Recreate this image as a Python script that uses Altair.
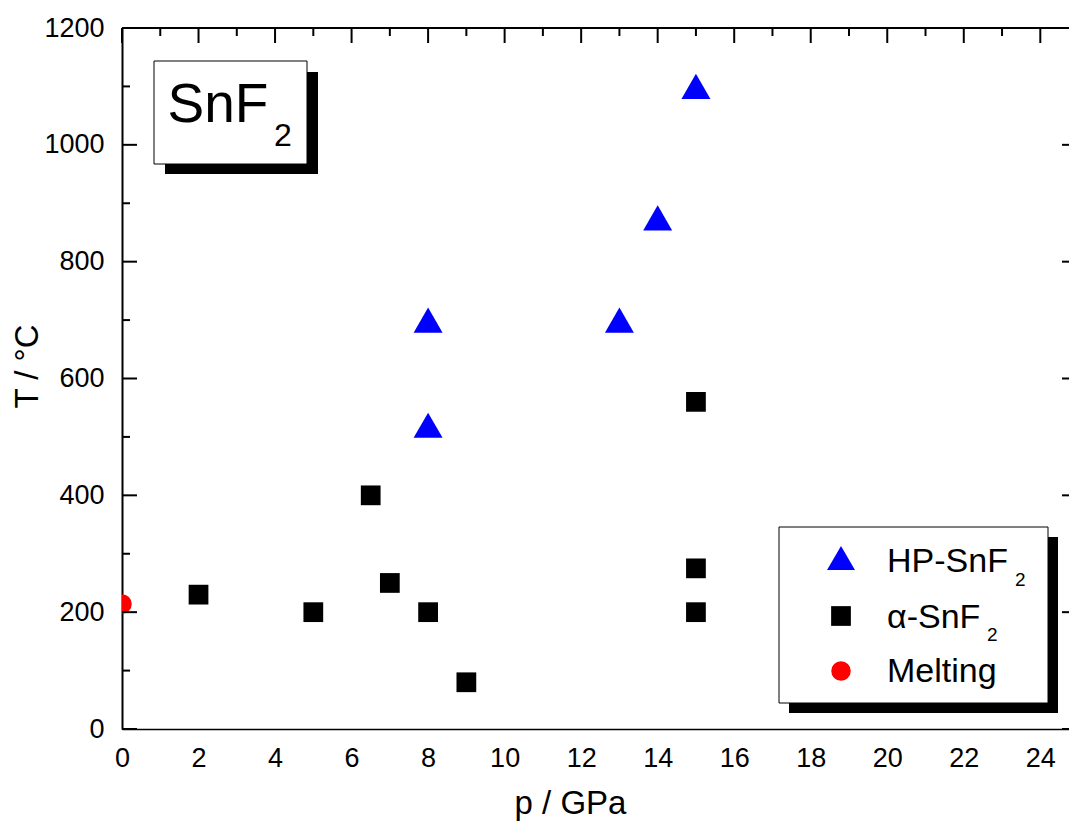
import altair as alt
import pandas as pd

# ---- data ----
hp_p = [8, 8, 13, 14, 15]
hp_T = [700, 520, 700, 875, 1100]
alpha_p = [2, 5, 6.5, 7, 8, 9, 15, 15, 15]
alpha_T = [230, 200, 400, 250, 200, 80, 560, 275, 200]
melt_p = [0]
melt_T = [214]

legend_main = ["HP-SnF", "α-SnF", "Melting"]
legend_sub = ["2", "2", ""]
x_ticks = list(range(0, 25, 2))
x_minor = list(range(1, 25, 2))
y_ticks = list(range(0, 1201, 200))
y_minor = list(range(100, 1200, 200))

FONT = "Liberation Sans"
W, H = 947, 701

xscale = alt.Scale(domain=[0, 24.75], nice=False, zero=False)
yscale = alt.Scale(domain=[0, 1200], nice=False, zero=False)

xaxis = alt.Axis(values=x_ticks, ticks=False, tickSize=0, grid=False, domainColor="black",
                 domainWidth=1.5, labelFontSize=27, labelFont=FONT, labelColor="black",
                 labelPadding=16, labelFlush=False, labelOverlap=False, format="d",
                 title="p / GPa", titleFont=FONT, titleFontSize=33, titleFontWeight="normal",
                 titleColor="black", titleX=448, titleY=84, titleAlign="center",
                 titleBaseline="alphabetic")
yaxis = alt.Axis(values=y_ticks, ticks=False, tickSize=0, grid=False, domainColor="black",
                 domainWidth=2, labelFontSize=27, labelFont=FONT, labelColor="black",
                 labelPadding=18, labelFlush=False, labelOverlap=False, format="d",
                 title="T / °C", titleFont=FONT, titleFontSize=33, titleFontWeight="normal",
                 titleColor="black", titleAngle=270, titleX=-95, titleY=338,
                 titleAlign="center", titleBaseline="middle")

X = alt.X("p:Q", scale=xscale, axis=xaxis)
Y = alt.Y("T:Q", scale=yscale, axis=yaxis)

hp_df = pd.DataFrame({"p": hp_p, "T": hp_T})
al_df = pd.DataFrame({"p": alpha_p, "T": alpha_T})
me_df = pd.DataFrame({"p": melt_p, "T": melt_T})
one = pd.DataFrame({"a": [0]})

alpha_layer = alt.Chart(al_df).mark_point(shape="square", filled=True, color="#000000",
                                          opacity=1, size=390, clip=True).encode(x=X, y=Y)
hp_layer = alt.Chart(hp_df).mark_point(shape="triangle-up", filled=True, color="#0000ff",
                                       opacity=1, size=840, clip=True).encode(x=X, y=Y)
me_layer = alt.Chart(me_df).mark_point(shape="circle", filled=True, color="#ff0000",
                                       opacity=1, size=380, clip=True).encode(x=X, y=Y)

# ---- frame and inward ticks ----
top_line = alt.Chart(one).mark_rule(color="black", strokeWidth=2).encode(
    x=alt.value(0), x2=alt.value(W), y=alt.value(0))
top_major = alt.Chart(pd.DataFrame({"p": x_ticks})).mark_rule(color="black", strokeWidth=2).encode(
    x=X, y=alt.value(0), y2=alt.value(15))
top_minor = alt.Chart(pd.DataFrame({"p": x_minor})).mark_rule(color="black", strokeWidth=2).encode(
    x=X, y=alt.value(0), y2=alt.value(8))
left_major = alt.Chart(pd.DataFrame({"T": y_ticks})).mark_rule(color="black", strokeWidth=2).encode(
    y=Y, x=alt.value(0), x2=alt.value(15))
left_minor = alt.Chart(pd.DataFrame({"T": y_minor})).mark_rule(color="black", strokeWidth=2).encode(
    y=Y, x=alt.value(0), x2=alt.value(8))
right_major = alt.Chart(pd.DataFrame({"T": y_ticks})).mark_rule(color="black", strokeWidth=2).encode(
    y=Y, x=alt.value(W - 7), x2=alt.value(W))


def rect(x1, x2, y1, y2, **kw):
    return alt.Chart(one).mark_rect(**kw).encode(
        x=alt.value(x1), x2=alt.value(x2), y=alt.value(y1), y2=alt.value(y2))


def txt(s, x, y, size):
    return alt.Chart(one).mark_text(text=s, font=FONT, fontSize=size, align="left",
                                    baseline="alphabetic", color="black").encode(
        x=alt.value(x), y=alt.value(y))


# ---- SnF2 label box ----
title_shadow = rect(43, 196, 44, 146, color="black")
title_box = rect(32, 185, 33, 136, fill="white", stroke="black", strokeWidth=1)
title_main = txt("SnF", 45.5, 94, 55)
title_sub = txt("2", 152, 118, 32)

# ---- legend ----
leg_shadow = rect(667, 936, 509, 685, color="black")
leg_box = rect(657, 926, 499, 675, fill="white", stroke="black", strokeWidth=1)
leg_sym1 = alt.Chart(one).mark_point(shape="triangle-up", filled=True, color="#0000ff",
                                     opacity=1, size=780).encode(x=alt.value(719), y=alt.value(530))
leg_sym2 = alt.Chart(one).mark_point(shape="square", filled=True, color="#000000",
                                     opacity=1, size=390).encode(x=alt.value(719), y=alt.value(588))
leg_sym3 = alt.Chart(one).mark_point(shape="circle", filled=True, color="#ff0000",
                                     opacity=1, size=380).encode(x=alt.value(719), y=alt.value(643))
leg_t1 = txt(legend_main[0], 765, 544, 34)
leg_s1 = txt(legend_sub[0], 893, 558, 19)
leg_t2 = txt(legend_main[1], 765, 600, 34)
leg_s2 = txt(legend_sub[1], 865, 613, 19)
leg_t3 = txt(legend_main[2], 765, 654, 34)

chart = alt.layer(
    alpha_layer, hp_layer, me_layer,
    top_line, top_major, top_minor, left_major, left_minor, right_major,
    title_shadow, title_box, title_main, title_sub,
    leg_shadow, leg_box, leg_sym1, leg_sym2, leg_sym3,
    leg_t1, leg_s1, leg_t2, leg_s2, leg_t3,
).properties(
    width=W, height=H,
    padding={"left": 122, "top": 28, "right": 0, "bottom": 92},
    autosize=alt.AutoSizeParams(type="none"),
    background="white",
).configure_view(strokeWidth=0)

chart.save("out.html", embed_options={"renderer": "svg", "actions": False})
